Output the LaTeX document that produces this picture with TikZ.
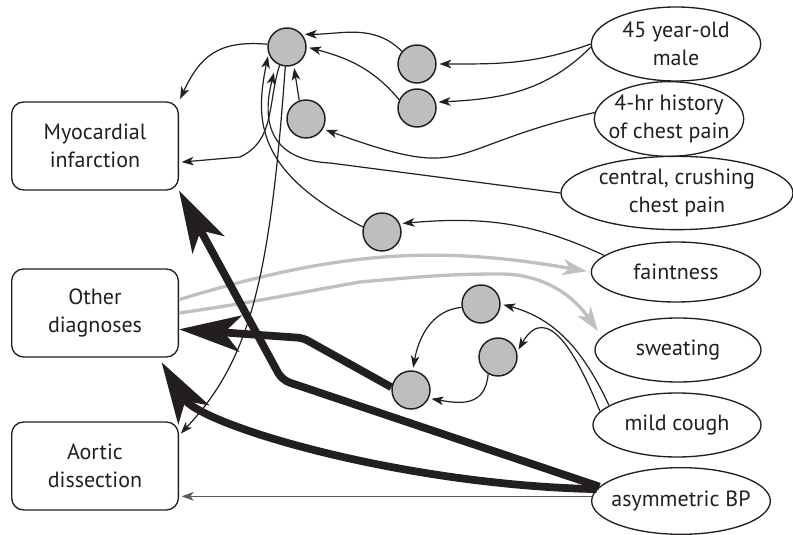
\documentclass[tikz,border=0pt]{standalone}
\usepackage{fontspec}
\setmainfont{PT Sans}
\usetikzlibrary{shapes.geometric,arrows.meta}
\definecolor{ink}{RGB}{35,31,32}
\definecolor{hubgray}{RGB}{188,190,192}
\definecolor{palegray}{RGB}{190,192,194}
\begin{document}
\begin{tikzpicture}[x=.75pt,y=.75pt,line width=.9pt,color=ink,
  font=\fontsize{16.5}{21}\selectfont,
  dx/.style={draw,rounded corners=9pt,minimum width=125pt,minimum height=66pt,align=center,line width=1pt},
  obs/.style={draw,ellipse,inner sep=-10pt,align=center,line width=1pt},
  hub/.style={draw,circle,fill=hubgray,minimum size=28.5pt,inner sep=0pt,line width=1.1pt},
  wire/.style={-{Stealth[length=9pt,width=6.5pt,inset=2.5pt]},shorten >=2pt},
  heavy/.style={line width=5.8pt,-{Stealth[length=46pt,width=27pt,inset=12pt]}},
  pale/.style={draw=palegray,line width=2.5pt,-{Stealth[length=18pt,width=12pt,inset=5pt]},shorten >=3pt}]
  \useasboundingbox (0,0) rectangle (793,535);
  \node[dx] (mi) at (95,389) {Myocardial\\infarction};
  \node[dx] (other) at (95,222) {Other\\diagnoses};
  \node[dx] (aortic) at (95,69) {Aortic\\dissection};
  \node[obs,minimum width=127pt,minimum height=55.5pt] (male) at (676,491) {45 year-old\\male};
  \node[obs,minimum width=112pt,minimum height=56pt] (hist) at (669,416) {4-hr history\\of chest pain};
  \node[obs,minimum width=174pt,minimum height=55pt] (central) at (677,342) {central, crushing\\chest pain};
  \node[obs,minimum width=127pt,minimum height=45pt] (faint) at (676,263) {faintness};
  \node[obs,minimum width=124.5pt,minimum height=48pt] (sweat) at (678,185) {sweating};
  \node[obs,minimum width=126pt,minimum height=48pt] (cough) at (677,110) {mild cough};
  \node[obs,minimum width=134pt,minimum height=50pt] (bp) at (681,34) {asymmetric BP};
  \node[hub] (c1) at (287,488) {};
  \node[hub] (c2) at (417,471) {};
  \node[hub] (c3) at (417,427) {};
  \node[hub] (c4) at (306,416) {};
  \node[hub] (c5) at (382,303) {};
  \node[hub] (c6) at (481,231) {};
  \node[hub] (c7) at (498,178) {};
  \node[hub] (c8) at (411,145) {};
  \draw[pale] (other.9) to[out=17,in=170] (faint.west);
  \draw[pale,shorten >=5pt] (other.east) to[out=8,in=190] (360,253) to[out=5,in=180] (500,261) to[out=0,in=125] (sweat.170);
  \draw[wire] (male.west) to[out=200,in=0] (c2.east);
  \draw[wire] (male.182) to[out=225,in=3] (c3.17);
  \draw[wire] (hist.175) to[out=193,in=-20,looseness=1.5] (c4.-30);
  \draw[wire,shorten >=7pt] (central.west) -- (330,372) .. controls (268,375) and (262,415) .. (c1.-123);
  \draw[wire] (faint.167) to[out=155,in=5] (c5.25);
  \draw[wire] (cough.164) to[out=115,in=-15] (c6.east);
  \draw[wire] (cough.170) to[out=112,in=60,looseness=1.5] (c7.15);
  \draw[wire] (c2.140) to[out=135,in=0] (c1.40);
  \draw[wire] (c3.155) to[out=130,in=-15] (c1.east);
  \draw[wire] (c4.110) -- (c1.-70);
  \draw[wire] (c5.165) .. controls (255,363) and (255,415) .. (c1.200);
  \draw[wire] (c6.190) to[out=185,in=80] (c8.85);
  \draw[wire] (c7.-120) to[out=-95,in=-10,looseness=1.3] (c8.-25);
  \draw[wire] (c1.172) to[out=175,in=65,looseness=1.2] (mi.north east);
  \draw[wire] (c1.-112) to[out=-108,in=25] (240,378) -- (mi.-11);
  \draw[wire] (c1.-95) .. controls (270,255) and (250,175) .. (aortic.20);
  \draw[wire,color=black!65] (bp.177) -- (bp.177 -| aortic.east);
  \draw[heavy,rounded corners=6pt] (bp.170) -- (282,155) -- (mi.south east);
  \draw[heavy,rounded corners=4pt] (c8.172) -- (303,197) -- (other.-11);
  \draw[heavy,shorten >=4pt] (bp.172) .. controls (400,50) and (200,110) .. (other.-35);
\end{tikzpicture}
\end{document}
